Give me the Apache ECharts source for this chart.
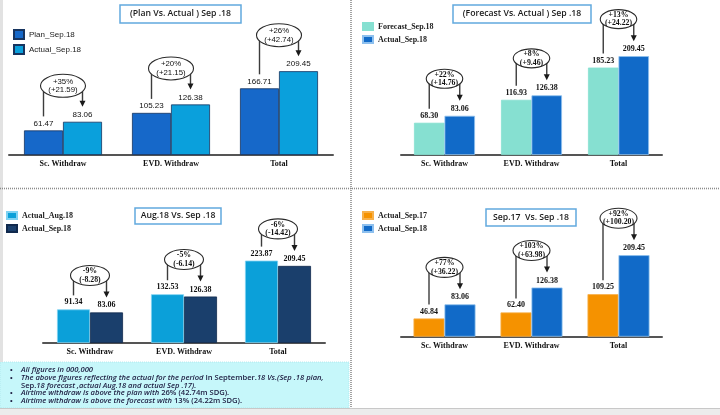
<!DOCTYPE html>
<html><head><meta charset="utf-8">
<script src="https://cdn.jsdelivr.net/npm/echarts@6/dist/echarts.min.js"></script>
<style>html,body{margin:0;padding:0;background:#fff}#c{width:720px;height:415px}</style>
</head><body><div id="c"></div><script>
const categories = ['Sc. Withdraw', 'EVD. Withdraw', 'Total'];
const planSep18 = [61.47, 105.23, 166.71];
const actualSep18 = [83.06, 126.38, 209.45];
const forecastSep18 = [68.30, 116.93, 185.23];
const actualAug18 = [91.34, 132.53, 223.87];
const actualSep17 = [46.84, 62.40, 109.25];
const p1Pct = ['+35%', '+20%', '+26%'];
const p1Diff = ['(+21.59)', '(+21.15)', '(+42.74)'];
const p2Pct = ['+22%', '+8%', '+13%'];
const p2Diff = ['(+14.76)', '(+9.46)', '(+24.22)'];
const p3Pct = ['-9%', '-5%', '-6%'];
const p3Diff = ['(-8.28)', '(-6.14)', '(-14.42)'];
const p4Pct = ['+77%', '+103%', '+92%'];
const p4Diff = ['(+36.22)', '(+63.98)', '(+100.20)'];
const titles = ['(Plan Vs. Actual ) Sep .18', '(Forecast Vs. Actual ) Sep .18', 'Aug.18 Vs. Sep .18', 'Sep.17  Vs. Sep .18'];
const notes = [
  '{i|All figures in 000,000}',
  '{i|The above figures reflecting the actual for the period }{u|In September.}{i|18 Vs.(Sep .18 plan,}',
  '{u|Sep.}{i|18 forecast ,actual Aug.18 and actual Sep .17).}',
  '{i|Airtime withdraw is above the plan with }{u|26% (42.74m SDG).}',
  '{i|Airtime withdraw is above the forecast with }{u|13% (24.22m SDG).}'
];

const SERIF = 'Liberation Serif';
const SANS = 'Liberation Sans';

const panels = [
  {grid:{left:9, top:55, width:324, height:100}, barW:39, names:['Plan_Sep.18','Actual_Sep.18#1'],
   a:planSep18, b:actualSep18, colors:['#1668c9','#0aa0dc'], borders:['#17345f','#17345f'],
   pct:p1Pct, diff:p1Diff, font:SANS, weight:'normal', ry:11.5, off:36,
   legend:{left:13, top:29, itemHeight:9, itemGap:4}, box:[120,5,121,18]},
  {grid:{left:401, top:37, width:261, height:118}, barW:30.5, names:['Forecast_Sep.18','Actual_Sep.18#2'],
   a:forecastSep18, b:actualSep18, colors:['#86e0d1','#116ac8'], borders:['#86e0d1','#8ec0ee'],
   pct:p2Pct, diff:p2Diff, font:SERIF, weight:'bold', ry:9.5, off:37,
   legend:{left:362, top:22, itemHeight:7, itemGap:4}, box:[453,5,138,18]},
  {grid:{left:43, top:251, width:282, height:92}, barW:33, names:['Actual_Aug.18','Actual_Sep.18#3'],
   a:actualAug18, b:actualSep18, colors:['#0ba0d9','#1a3f6c'], borders:['#7fd2f2','#10294d'],
   pct:p3Pct, diff:p3Diff, font:SERIF, weight:'bold', ry:10, off:37,
   legend:{left:6, top:211, itemHeight:7, itemGap:4}, box:[135,208,86,16]},
  {grid:{left:401, top:239.4, width:261, height:97.3}, barW:31, names:['Actual_Sep.17','Actual_Sep.18#4'],
   a:actualSep17, b:actualSep18, colors:['#f59200','#116ac8'], borders:['#f7b04a','#8ec0ee'],
   pct:p4Pct, diff:p4Diff, font:SERIF, weight:'bold', ry:10, off:37,
   legend:{left:362, top:211, itemHeight:7, itemGap:4}, box:[486,209,90,17]}
];

function annot(p) {
  return function (params, api) {
    const i = api.value(0);
    const a = api.coord([i, api.value(1)]);
    const b = api.coord([i, api.value(2)]);
    const xA = a[0] - p.barW / 2, xB = a[0] + p.barW / 2;
    const yA = a[1], yB = b[1];
    const cy = yB - p.off;
    const cx = (xA + xB) / 2;
    const rx = (xB - xA) / 2 + 3;
    const ls = {stroke:'#3c3c3c', lineWidth:1.4, fill:null};
    return {type:'group', children:[
      {type:'line', shape:{x1:xA, y1:yA - 14, x2:xA, y2:cy}, style:ls},
      {type:'line', shape:{x1:xB, y1:cy, x2:xB, y2:yB - 20}, style:ls},
      {type:'polygon', shape:{points:[[xB - 3, yB - 21], [xB + 3, yB - 21], [xB, yB - 15]]}, style:{fill:'#1a1a1a'}},
      {type:'ellipse', shape:{cx:cx, cy:cy, rx:rx, ry:p.ry}, style:{fill:'#ffffff', stroke:'#2a2a2a', lineWidth:1.1}},
      {type:'text', x:cx, y:cy, style:{text:p.pct[params.dataIndex] + '\n' + p.diff[params.dataIndex],
        align:'center', verticalAlign:'middle', fontFamily:p.font, fontWeight:p.weight, fontSize:7.8,
        lineHeight:8.5, fill:'#111'}}
    ]};
  };
}

const grid = [], xAxis = [], yAxis = [], series = [], legend = [], graphic = [];

// decorative frame
graphic.push({type:'rect', shape:{x:0, y:362, width:349, height:46}, style:{fill:'#c6f7fa', stroke:'#a8e4ea', lineWidth:0.8, lineDash:[1,1]}, z:0});
graphic.push({type:'rect', shape:{x:0, y:0, width:3, height:362}, style:{fill:'#e2e2e2'}, z:1});
graphic.push({type:'line', shape:{x1:351, y1:0, x2:351, y2:408}, style:{stroke:'#8c8c8c', lineWidth:1.6, lineDash:[1,1]}, z:2});
graphic.push({type:'line', shape:{x1:0, y1:188.5, x2:720, y2:188.5}, style:{stroke:'#8c8c8c', lineWidth:1.6, lineDash:[1,1]}, z:2});

const noteStyle = {fontFamily:'Open Sans', fontSize:7.6, fontWeight:600, fill:'#1c1c40'};
notes.forEach((t, k) => {
  const y = 370 + k * 7.7;
  if (k !== 2) graphic.push({type:'text', x:10, y:y, style:{text:'•', fontSize:7.5, fill:'#1c1c40', verticalAlign:'middle'}, z:3});
  graphic.push({type:'text', x:21, y:y, style:Object.assign({text:t, verticalAlign:'middle',
    rich:{i:Object.assign({fontStyle:'italic'}, noteStyle), u:Object.assign({fontStyle:'normal'}, noteStyle)}}, noteStyle), z:3});
});
graphic.push({type:'rect', shape:{x:0, y:408, width:720, height:7}, style:{fill:'#ececec'}, z:10});
graphic.push({type:'line', shape:{x1:0, y1:408.5, x2:720, y2:408.5}, style:{stroke:'#c8c8c8', lineWidth:1}, z:10});

panels.forEach((p, k) => {
  grid.push(Object.assign({outerBoundsMode:'none', containLabel:false}, p.grid));
  xAxis.push({type:'category', gridIndex:k, data:categories, axisTick:{show:false},
    axisLine:{lineStyle:{color:'#555', width:2}},
    axisLabel:{fontFamily:SERIF, fontWeight:'bold', fontSize:8, color:'#111', margin:5}});
  yAxis.push({type:'value', gridIndex:k, min:0, max:250, show:false, splitLine:{show:false}});
  [p.a, p.b].forEach((vals, j) => {
    series.push({type:'bar', name:p.names[j], xAxisIndex:k, yAxisIndex:k, data:vals, barWidth:p.barW, barGap:'0%',
      itemStyle:{color:p.colors[j], borderColor:p.borders[j], borderWidth:0.8},
      label:{show:true, position:'top', distance:3, formatter:(d) => d.value.toFixed(2),
        fontFamily:p.font, fontWeight:p.weight, fontSize:8, color:'#111'},
      emphasis:{disabled:true}, animation:false});
  });
  series.push({type:'custom', xAxisIndex:k, yAxisIndex:k, renderItem:annot(p), z:5, animation:false,
    encode:{x:0, y:[1, 2]}, data:categories.map((c, i) => [i, p.a[i], p.b[i]])});
  legend.push(Object.assign({orient:'vertical', data:p.names, itemWidth:10, icon:'rect', padding:0,
    formatter:(n) => n.split('#')[0], selectedMode:false,
    textStyle:{fontFamily:p.font, fontWeight:p.weight, fontSize:8, color:'#222', lineHeight:9}}, p.legend));
  const bx = p.box;
  graphic.push({type:'rect', shape:{x:bx[0], y:bx[1], width:bx[2], height:bx[3]}, style:{fill:'#fff', stroke:'#62a9de', lineWidth:1.5}, z:4});
  graphic.push({type:'text', x:bx[0] + bx[2] / 2, y:bx[1] + bx[3] / 2, style:{text:titles[k], fontFamily:'Open Sans', fontWeight:600,
    fontSize:8.7, fill:'#1a1a1a', align:'center', verticalAlign:'middle'}, z:5});
});

const chart = echarts.init(document.getElementById('c'), null, {renderer:'canvas'});
chart.setOption({backgroundColor:'#ffffff', animation:false, grid, xAxis, yAxis, series, legend, graphic});
</script></body></html>
